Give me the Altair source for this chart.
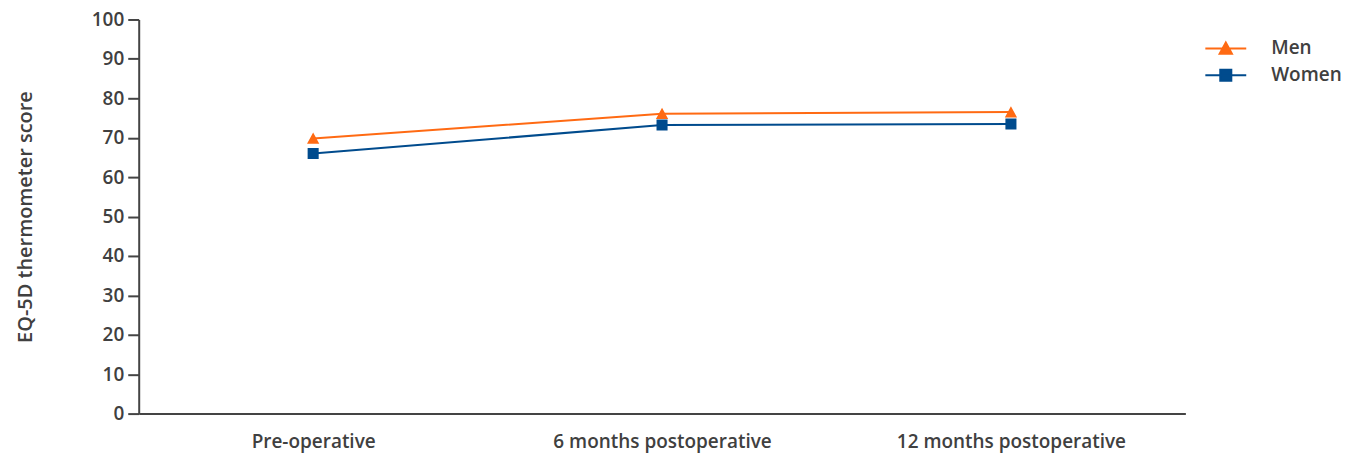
import altair as alt
import pandas as pd

timepoints = ["Pre-operative", "6 months postoperative", "12 months postoperative"]
men = [69.8, 76.1, 76.5]
women = [66.0, 73.2, 73.5]
series = ["Men", "Women"]
colors = ["#FF6A13", "#004B8D"]
shapes = [
    "M-1,0H1M0,-0.29L0.3,0.26L-0.3,0.26Z",
    "M-1,0H1M-0.27,-0.27H0.27V0.27H-0.27Z",
]

rows = []
for t, m, w in zip(timepoints, men, women):
    rows.append({"time": t, "series": "Men", "score": m})
    rows.append({"time": t, "series": "Women", "score": w})
df = pd.DataFrame(rows)

FONT = "Open Sans"
TXT = "#404040"

x = alt.X("time:N", sort=timepoints, scale=alt.Scale(type="point", padding=0.5),
          axis=alt.Axis(title=None, ticks=False, labelPadding=19, labelAngle=0, labelLimit=400,
                        labelFontSize=19, labelFontWeight=600, labelColor=TXT,
                        labelFont=FONT, domainColor="#444444", domainWidth=2))
y = alt.Y("score:Q", scale=alt.Scale(domain=[0, 100], nice=False, zero=True),
          axis=alt.Axis(title="EQ-5D thermometer score", values=list(range(0, 101, 10)),
                        grid=False, tickSize=11, tickWidth=2, tickColor="#444444",
                        domainColor="#444444", domainWidth=2, labelPadding=4,
                        labelFontSize=19, labelFontWeight=600, labelColor=TXT, labelFont=FONT,
                        titleFontSize=20, titleFontWeight=600, titleColor=TXT, titleFont=FONT,
                        titlePadding=56))

legend = alt.Legend(title=None, orient="none", legendX=1068, legendY=15.5,
                    symbolSize=1681, symbolStrokeWidth=2, clipHeight=27, rowPadding=0,
                    labelOffset=24, labelFontSize=19, labelFontWeight=600, labelColor=TXT,
                    labelFont=FONT)

lines = alt.Chart(df).mark_line(strokeWidth=2).encode(
    x=x, y=y,
    color=alt.Color("series:N", scale=alt.Scale(domain=series, range=colors), legend=legend),
    detail="series:N",
)

points = alt.Chart(df).mark_point(filled=True, size=1681, opacity=1).encode(
    x=x, y=y,
    fill=alt.Fill("series:N", scale=alt.Scale(domain=series, range=colors), legend=legend),
    shape=alt.Shape("series:N", scale=alt.Scale(domain=series, range=shapes), legend=legend),
)

chart = alt.layer(lines, points).properties(
    width=1049, height=395,
    autosize=alt.AutoSizeParams(type="none"),
    padding={"left": 131, "top": 11, "right": 170, "bottom": 40},
).configure(background="white").configure_view(stroke=None)

chart.save("out.html", embed_options={"renderer": "svg", "actions": False})
